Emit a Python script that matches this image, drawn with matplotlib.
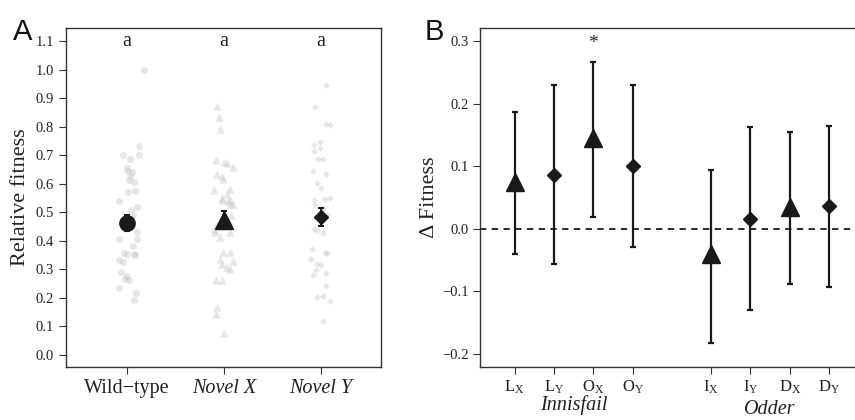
import numpy as np
import matplotlib
matplotlib.use("Agg")
import matplotlib.pyplot as plt

plt.rcParams['font.family'] = ['Liberation Serif', 'DejaVu Serif']
plt.rcParams['mathtext.fontset'] = 'custom'
plt.rcParams['mathtext.rm'] = 'Liberation Serif'

# ---- panel A data: (jitter offset, relative fitness)
wt_jit = [0.17, 0.12, -0.045, 0.12, 0.03, 0.0, 0.01, 0.05, 0.03, 0.02, 0.07, 0.005,
          0.08, -0.08, 0.10, 0.04, 0.10, -0.08, 0.10, 0.06, -0.035, 0.0, 0.07, 0.08,
          -0.08, -0.04, -0.06, 0.0, -0.02, 0.02, -0.08, 0.09, 0.07, 0.02, 0.05,
          -0.03, 0.06]
wt_val = [1.00, 0.731, 0.70, 0.70, 0.687, 0.654, 0.646, 0.64, 0.628, 0.613, 0.605, 0.573,
          0.575, 0.54, 0.518, 0.508, 0.431, 0.406, 0.406, 0.381, 0.358, 0.355, 0.355, 0.35,
          0.332, 0.326, 0.291, 0.276, 0.266, 0.262, 0.235, 0.218, 0.192, 0.47, 0.45,
          0.445, 0.49]

nx_jit = [-0.075, -0.048, -0.041, -0.082, 0.0, 0.034, 0.089, -0.075, -0.024, -0.007,
          -0.10, 0.062, -0.024, 0.045, 0.062, 0.089, -0.089, -0.041, 0.062, -0.007,
          0.062, -0.041, 0.096, -0.024, 0.027, 0.062, -0.082, -0.024, -0.075, -0.082,
          0.003, 0.03, 0.065, -0.02, 0.07, -0.10, -0.07, 0.05]
nx_val = [0.871, 0.834, 0.793, 0.683, 0.677, 0.673, 0.658, 0.634, 0.626, 0.617,
          0.578, 0.581, 0.544, 0.538, 0.528, 0.53, 0.431, 0.414, 0.431, 0.361,
          0.361, 0.338, 0.329, 0.32, 0.309, 0.303, 0.262, 0.264, 0.169, 0.142,
          0.078, 0.565, 0.545, 0.55, 0.49, 0.44, 0.455, 0.47]

ny_jit = [0.048, -0.065, 0.055, 0.09, -0.072, -0.01, -0.072, -0.005, -0.027, 0.024,
          -0.082, 0.055, -0.038, 0.003, -0.072, 0.041, 0.09, -0.062, 0.034, 0.065,
          -0.072, -0.038, 0.024, -0.096, 0.041, 0.065, -0.10, -0.045, -0.003, -0.055,
          0.055, -0.082, 0.055, -0.045, 0.024, 0.09, 0.024]
ny_val = [0.948, 0.869, 0.809, 0.805, 0.735, 0.747, 0.715, 0.727, 0.687, 0.687,
          0.645, 0.636, 0.603, 0.587, 0.542, 0.548, 0.55, 0.525, 0.514, 0.49,
          0.443, 0.437, 0.427, 0.37, 0.357, 0.357, 0.338, 0.32, 0.314, 0.299,
          0.287, 0.279, 0.241, 0.205, 0.208, 0.191, 0.119]

a_labels = ['Wild\u2212type', 'Novel X', 'Novel Y']
a_means = [0.463, 0.474, 0.484]
a_lo = [0.436, 0.441, 0.451]
a_hi = [0.490, 0.506, 0.516]
a_letters = ['a', 'a', 'a']

# ---- panel B data
b_pos = [1, 2, 3, 4, 6, 7, 8, 9]
b_labels = [r'$\mathregular{L_X}$', r'$\mathregular{L_Y}$', r'$\mathregular{O_X}$',
            r'$\mathregular{O_Y}$', r'$\mathregular{I_X}$', r'$\mathregular{I_Y}$',
            r'$\mathregular{D_X}$', r'$\mathregular{D_Y}$']
b_mean = [0.075, 0.086, 0.145, 0.100, -0.041, 0.016, 0.035, 0.037]
b_lo = [-0.041, -0.057, 0.019, -0.029, -0.183, -0.130, -0.088, -0.093]
b_hi = [0.187, 0.230, 0.266, 0.230, 0.094, 0.162, 0.155, 0.165]
b_marker = ['^', 'D', '^', 'D', '^', 'D', '^', 'D']
groups = ['Innisfail', 'Odder']
group_x = [2.5, 7.5]

dark = '#1a1a1a'
spine_c = '#333333'

fig = plt.figure(figsize=(8.55, 4.2), dpi=100)
axA = fig.add_axes([0.0772, 0.1262, 0.3684, 0.8071])
axB = fig.add_axes([0.5618, 0.1262, 0.448, 0.8071])

for ax in (axA, axB):
    for s in ax.spines.values():
        s.set_color(spine_c)
        s.set_linewidth(1.0)
    ax.tick_params(direction='out', length=5, width=0.8, color=spine_c,
                   labelsize=10.5, labelcolor='#222222')

# panel A
pts_c = '#bdbdbd'
axA.scatter(1 + np.array(wt_jit), wt_val, s=26, marker='o', color=pts_c,
            alpha=0.35, linewidths=0, zorder=2)
axA.scatter(2 + np.array(nx_jit), nx_val, s=36, marker='^', color=pts_c,
            alpha=0.35, linewidths=0, zorder=2)
axA.scatter(3 + np.array(ny_jit), ny_val, s=12, marker='D', color=pts_c,
            alpha=0.35, linewidths=0, zorder=2)

a_mk = ['o', '^', 'D']
a_ms = [11, 13, 7]
for i in range(3):
    m = a_means[i]
    axA.errorbar(i + 1, m, yerr=[[m - a_lo[i]], [a_hi[i] - m]], fmt='none',
                 ecolor=dark, elinewidth=1.5, capsize=2.5, capthick=1.5, zorder=3)
    axA.plot(i + 1, m, marker=a_mk[i], ms=a_ms[i], color=dark, mec=dark, zorder=4)
    axA.text(i + 1, 1.1, a_letters[i], ha='center', va='center', fontsize=14.5,
             color='#222222')

axA.set_xlim(0.37, 3.62)
axA.set_ylim(-0.042, 1.146)
axA.set_yticks(np.arange(0, 1.11, 0.1))
axA.set_yticklabels(['%.1f' % v for v in np.arange(0, 1.11, 0.1)])
axA.set_xticks([1, 2, 3])
axA.set_xticklabels(a_labels, fontsize=14.5)
for lab in axA.get_xticklabels()[1:]:
    lab.set_style('italic')
axA.set_ylabel('Relative fitness', fontsize=16, color='#222222', labelpad=4)

# panel B
axB.axhline(0, color=dark, lw=1.3, dashes=(3.5, 3), zorder=1)
for p, m, lo, hi, mk in zip(b_pos, b_mean, b_lo, b_hi, b_marker):
    axB.errorbar(p, m, yerr=[[m - lo], [hi - m]], fmt='none', ecolor=dark,
                 elinewidth=1.6, capsize=2.5, capthick=1.6, zorder=2)
    axB.plot(p, m, marker=mk, ms=13 if mk == '^' else 7, color=dark, mec=dark,
             zorder=3)
axB.text(3, 0.296, '*', ha='center', va='center', fontsize=14, color='#222222')

axB.set_xlim(0.125, 9.875)
axB.set_ylim(-0.221, 0.321)
axB.set_yticks([-0.2, -0.1, 0.0, 0.1, 0.2, 0.3])
axB.set_yticklabels(['\u22120.2', '\u22120.1', '0.0', '0.1', '0.2', '0.3'])
axB.set_xticks(b_pos)
axB.set_xticklabels(b_labels, fontsize=12)
axB.set_ylabel('\u0394 Fitness', fontsize=16, color='#222222', labelpad=2)
axB.text(group_x[0], -0.2897, groups[0], ha='center', va='baseline', fontsize=14.5,
         style='italic', color='#222222')
axB.text(group_x[1], -0.2961, groups[1], ha='center', va='baseline', fontsize=14.5,
         style='italic', color='#222222')

fig.text(0.0152, 0.925, 'A', fontsize=21, family='Liberation Sans', color='#111111',
         va='center')
fig.text(0.4970, 0.925, 'B', fontsize=21, family='Liberation Sans', color='#111111',
         va='center')

fig.savefig('out.png', dpi=100)
